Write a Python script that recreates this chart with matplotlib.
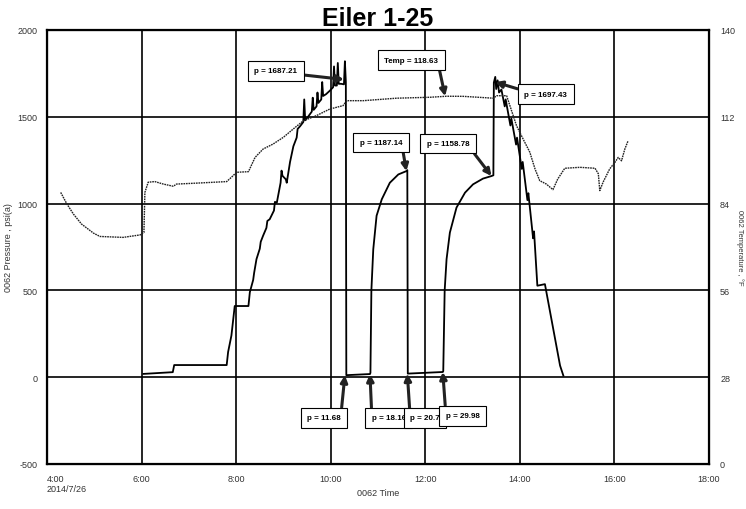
import matplotlib
matplotlib.use('Agg')
import matplotlib.pyplot as plt

plt.rcParams['font.family'] = ['Liberation Sans Narrow', 'Liberation Sans', 'DejaVu Sans']

# 压力曲线 (hours, psi)
pres_t = [6.04, 6.66, 6.69, 7.80, 7.83, 7.90, 7.97, 8.26, 8.29, 8.36, 8.38, 8.43,
          8.50, 8.52, 8.57, 8.64, 8.66, 8.71, 8.80, 8.82, 8.86, 8.94, 8.96, 8.98,
          9.05, 9.07, 9.14, 9.21, 9.28, 9.30, 9.35, 9.42, 9.44, 9.46, 9.52, 9.60,
          9.62, 9.64, 9.70, 9.72, 9.74, 9.80, 9.82, 9.84, 9.90, 9.98, 10.05, 10.07,
          10.09, 10.13, 10.15, 10.17, 10.22, 10.28, 10.30, 10.32, 10.33, 10.83,
          10.84, 10.86, 10.90, 10.97, 11.08, 11.25, 11.43, 11.60, 11.62, 11.63,
          12.37, 12.38, 12.41, 12.45, 12.52, 12.66, 12.84, 13.01, 13.22, 13.40,
          13.44, 13.45, 13.48, 13.50, 13.53, 13.56, 13.61, 13.68, 13.70, 13.80,
          13.82, 13.92, 13.94, 14.04, 14.06, 14.16, 14.18, 14.28, 14.30, 14.37,
          14.53, 14.85, 14.92]
pres_p = [19, 29, 70, 70, 145, 240, 410, 410, 490, 560, 600, 680,
          740, 780, 815, 860, 900, 910, 960, 1010, 1005, 1120, 1190, 1160,
          1140, 1120, 1240, 1330, 1380, 1430, 1445, 1470, 1600, 1480, 1500, 1530,
          1610, 1540, 1560, 1640, 1580, 1600, 1700, 1620, 1630, 1650, 1670, 1790,
          1680, 1680, 1810, 1690, 1690, 1687, 1820, 1700, 11.68, 18.16,
          25, 500, 737, 930, 1025, 1120, 1168, 1187.14, 1193, 20.7,
          29.98, 35, 500, 680, 833, 977, 1063, 1111, 1144, 1158.78,
          1163, 1697.43, 1730, 1660, 1710, 1640, 1657, 1560, 1600, 1450,
          1490, 1340, 1380, 1200, 1240, 1020, 1060, 800, 840, 527,
          536, 67, 9]

# 温度曲线 (hours, °F)
temp_t = [4.29, 4.42, 4.56, 4.73, 4.98, 5.12, 5.61, 5.97, 6.05, 6.07, 6.14, 6.28,
          6.46, 6.67, 6.74, 7.16, 7.80, 7.90, 8.01, 8.26, 8.40, 8.57, 8.78, 9.00,
          9.21, 9.42, 9.70, 9.98, 10.26, 10.34, 10.69, 11.39, 12.10, 12.45, 12.80,
          13.44, 13.51, 13.72, 13.93, 14.07, 14.21, 14.32, 14.42, 14.56, 14.70,
          14.80, 14.95, 15.27, 15.59, 15.66, 15.69, 15.76, 15.90, 16.01, 16.08,
          16.15, 16.22, 16.29]
temp_v = [87.6, 83.9, 80.6, 77.4, 74.5, 73.4, 73.1, 73.9, 74.7, 87.6, 90.9, 91.1,
          90.3, 89.6, 90.3, 90.6, 91.1, 92.5, 94.1, 94.3, 98.9, 101.6, 103.2, 105.4,
          108.1, 110.7, 112.4, 114.5, 115.6, 117.2, 117.2, 118.0, 118.3, 118.63, 118.6,
          118.0, 118.8, 118.8, 109.1, 104.8, 100.6, 95.2, 91.4, 90.3, 88.5,
          91.9, 95.4, 95.7, 95.4, 93.6, 88.2, 90.9, 95.2, 97.3, 98.9,
          97.8, 101.6, 104.3]

x_ticks = [4, 6, 8, 10, 12, 14, 16, 18]
x_labels = ['4:00\n2014/7/26', '6:00', '8:00', '10:00', '12:00', '14:00', '16:00', '18:00']
p_ticks = [-500, 0, 500, 1000, 1500, 2000]
t_ticks = [0, 28, 56, 84, 112, 140]

# callouts: text, arrow tip (t, psi), box centre (t, psi), arrow start on box
p_notes = [
    ('p = 1687.21', (10.28, 1715), (8.84, 1765), (1, 0)),
    ('p = 1187.14', (11.60, 1187.14), (11.06, 1352), (1, 0)),
    ('p = 1158.78', (13.40, 1158.78), (12.48, 1346), (1, 0)),
    ('p = 1697.43', (13.48, 1700), (14.55, 1629), (0, 1)),
    ('p = 11.68', (10.30, 11.68), (9.86, -234), (1, 1)),
    ('p = 18.16', (10.83, 18.16), (11.23, -234), (0, 1)),
    ('p = 20.7', (11.62, 20.7), (11.99, -234), (0, 1)),
    ('p = 29.98', (12.37, 29.98), (12.79, -222), (0, 1)),
]
t_note = ('Temp = 118.63', (12.42, 118.63), (11.70, 130.3), (1, 0))

fig = plt.figure(figsize=(7.46, 5.10), dpi=100)
ax = fig.add_axes([47 / 746, 1 - 465 / 510, (709 - 47) / 746, (465 - 31) / 510])

ax.set_xlim(4, 18)
ax.set_ylim(-500, 2000)
ax.set_xticks(x_ticks)
ax.set_xticklabels(x_labels, fontsize=6.5, color='#333')
ax.get_xticklabels()[0].set_horizontalalignment('left')
ax.set_yticks(p_ticks)
ax.set_yticklabels([str(v) for v in p_ticks], fontsize=6.5, color='#333')
ax.tick_params(axis='both', length=0)
ax.tick_params(axis='x', pad=7)
ax.tick_params(axis='y', pad=7)
ax.grid(True, color='black', lw=1.2)
for s in ax.spines.values():
    s.set_linewidth(1.6)

ax.plot(pres_t, pres_p, color='black', lw=1.3, zorder=3)

ax2 = ax.twinx()
ax2.set_ylim(0, 140)
ax2.set_yticks(t_ticks)
ax2.set_yticklabels([str(v) for v in t_ticks], fontsize=6.5, color='#333')
ax2.tick_params(axis='y', length=0, pad=8)
ax2.plot(temp_t, temp_v, color='#222', lw=1.0, linestyle=(0, (1.2, 0.6)), zorder=3)

box = dict(boxstyle='square,pad=0.8', fc='white', ec='black', lw=0.8)
arrow = dict(arrowstyle='-|>', color='#222', lw=2.2, mutation_scale=10, shrinkA=0, shrinkB=0)
for txt, xy, xytext, rel in p_notes:
    ax2.annotate(txt, xy=(xy[0], (xy[1] + 500) * 140 / 2500),
                 xytext=(xytext[0], (xytext[1] + 500) * 140 / 2500),
                 fontsize=5.8, fontweight='bold', ha='center', va='center', bbox=box,
                 arrowprops=dict(arrow, relpos=rel), zorder=5)

txt, xy, xytext, rel = t_note
ax2.annotate(txt, xy=xy, xytext=xytext, fontsize=5.8, fontweight='bold',
             ha='center', va='center', bbox=box,
             arrowprops=dict(arrow, relpos=rel), zorder=5)

ax.set_title('Eiler 1-25', fontsize=18, fontweight='bold', pad=3)
ax.set_xlabel('0062 Time', fontsize=6.5, color='#333')
ax.xaxis.set_label_coords(0.5, -0.055)
ax.set_ylabel('0062 Pressure , psi(a)', fontsize=6.5, color='#333')
ax.yaxis.set_label_coords(-0.052, 0.5)
ax2.set_ylabel('0062 Temperature , °F', fontsize=5.5, color='#333', rotation=270, va='center')
ax2.yaxis.set_label_coords(1.047, 0.5)

fig.savefig('out.png', dpi=100)
